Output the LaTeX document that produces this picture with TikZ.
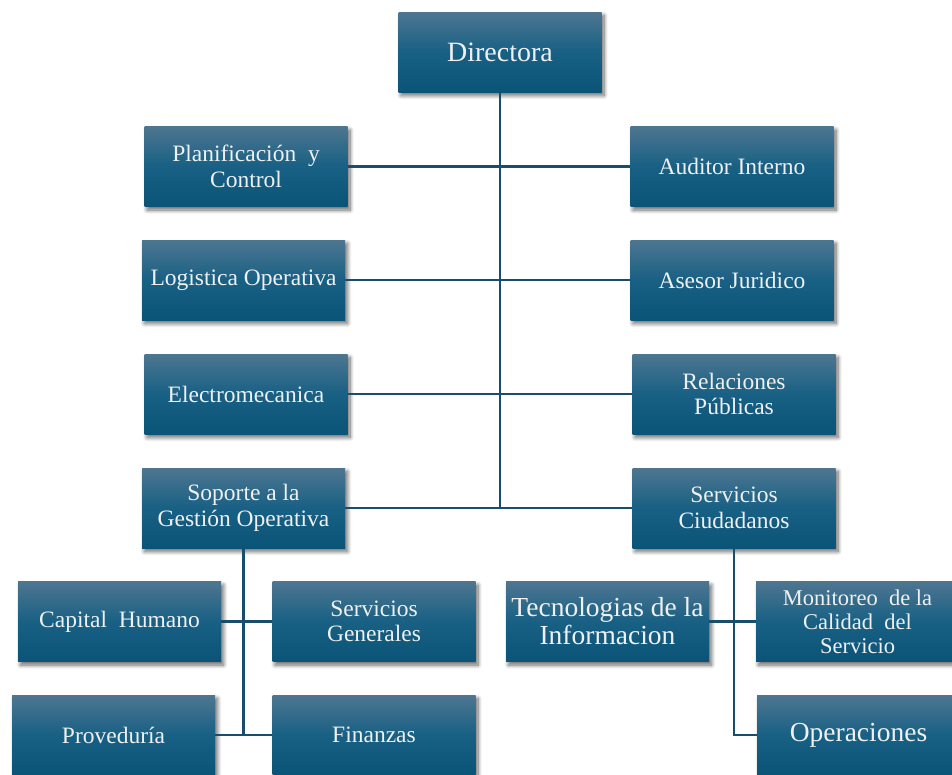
\documentclass[tikz,border=0pt]{standalone}
\usepackage{fontspec}
\setmainfont{Liberation Serif}
\usetikzlibrary{shadows.blur}
\definecolor{cajaarriba}{RGB}{78,118,144}
\definecolor{cajamedio}{RGB}{24,96,132}
\definecolor{cajaabajo}{RGB}{10,84,120}
\definecolor{linea}{RGB}{24,78,108}
\tikzset{
	caja/.style={minimum width=203pt, minimum height=80pt, inner sep=1pt, align=center,
		text=white!94!black, top color=cajaarriba, bottom color=cajaabajo, middle color=cajamedio,
		blur shadow={shadow xshift=2.5pt, shadow yshift=-3.5pt, shadow blur steps=8, shadow blur radius=4pt, shadow opacity=60}},
	enlace/.style={draw=linea, line width=2.2pt}
}
\begin{document}
\begin{tikzpicture}[x=1pt,y=1pt]
		\useasboundingbox (0,0) rectangle (952,-774);
		% Cajas: nombre/x/y/tamano/interlineado/texto
		\foreach \n/\x/\y/\s/\b/\t in {dir/500/52/28/30/Directora,
			pla/246/166.5/23.5/25.5/{Planificación\ \ y\\Control},
			aud/732/166.5/23.5/25.5/{Auditor\ Interno},
			log/243.5/280/23.5/25.5/{Logistica\ Operativa},
			ase/732/280/23.5/25.5/{Asesor Juridico},
			ele/246/394/23.5/25.5/Electromecanica,
			rel/734/394/23.5/25.5/{Relaciones\\Públicas},
			sop/243.5/508/23.5/25.5/{Soporte a la\\Gestión Operativa},
			ser/734/508/23.5/25.5/{Servicios\\Ciudadanos},
			cap/119.5/621.5/23.5/25.5/{Capital\ \ Humano},
			sgen/374/621.5/23.5/25.5/{Servicios\\Generales},
			tec/607.5/621.5/27.5/28/{Tecnologias de la\\Informacion},
			mon/857.5/621.5/22.5/24/{Monitoreo\ \ de la\\Calidad\ \ del\\Servicio},
			pro/113.5/735/23.5/25.5/Proveduría,
			fin/374/735/23.5/25.5/Finanzas,
			ope/858.5/735/27.5/30/Operaciones}
		\node[caja, font=\fontsize{\s}{\b}\selectfont] (\n) at (\x,-\y) {\t};
		% Tronco principal
		\draw[enlace] (dir.south) -- (dir |- sop.east);
		\draw[enlace] (sop.east) -- (ser.west);
		\foreach \a/\b in {pla/aud,log/ase,ele/rel}
		\draw[enlace] (\a.east) -- (\b.west);
		% Soporte a la Gestion Operativa
		\draw[enlace] (sop.south) -- (sop |- pro.east);
		\draw[enlace] (cap.east) -- (sgen.west);
		\draw[enlace] (pro.east) -- (fin.west);
		% Servicios Ciudadanos
		\draw[enlace] (ser.south) -- (ser |- ope.west) -- (ope.west);
		\draw[enlace] (tec.east) -- (mon.west);
	\end{tikzpicture}
\end{document}
